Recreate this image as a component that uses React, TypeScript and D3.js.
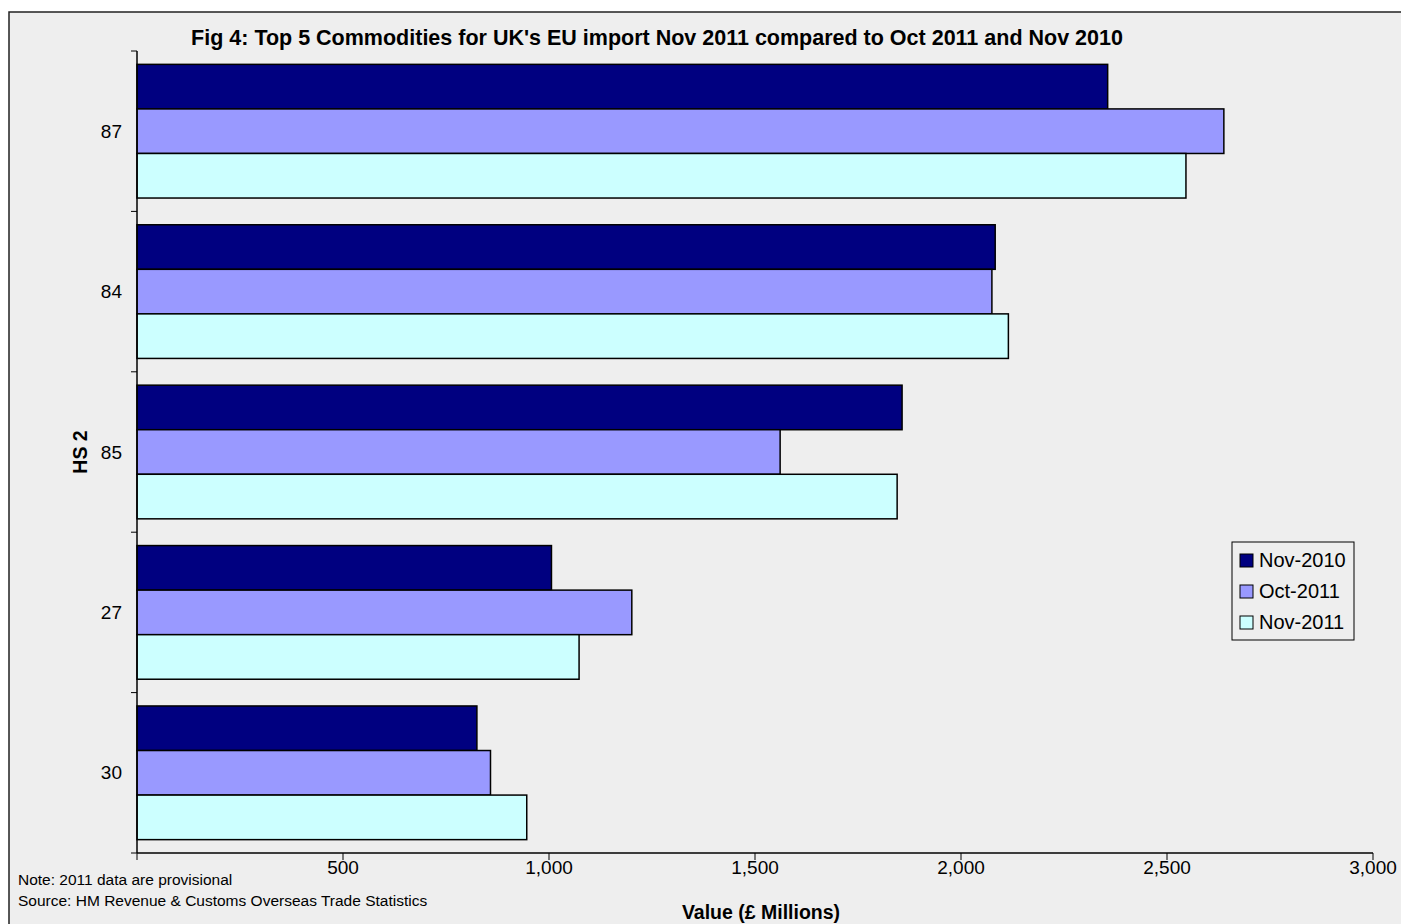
import React from "react";
import * as d3 from "d3";

const categories = ["87", "84", "85", "27", "30"];
const seriesNames = ["Nov-2010", "Oct-2011", "Nov-2011"];
const nov2010 = [2356, 2083, 1857, 1006, 825];
const oct2011 = [2638, 2075, 1561, 1201, 858];
const nov2011 = [2546, 2115, 1845, 1073, 946];
const seriesColors = ["#000080", "#9999FF", "#CCFFFF"];
const xTicks = [500, 1000, 1500, 2000, 2500, 3000];

const W = 1401;
const H = 924;
const FONT = "'Liberation Sans', Arial, sans-serif";

export default function App() {
  const seriesValues = [nov2010, oct2011, nov2011];
  const x = d3.scaleLinear().domain([0, 3000]).range([137, 1373]);
  const y = d3.scaleBand<string>().domain(categories).range([51, 853]).padding(0);
  const inner = d3
    .scaleBand<string>()
    .domain(seriesNames)
    .range([0, y.bandwidth()])
    .paddingInner(0)
    .paddingOuter(0.3);
  const fmt = d3.format(",");
  const x0 = x(0);
  const yTop = 51;
  const yBot = 853;

  return (
    <svg
      width={W}
      height={H}
      style={{ position: "absolute", left: 0, top: 0, background: "#ffffff" }}
      fontFamily={FONT}
    >
      <rect x={9} y={12} width={W + 20} height={H + 20} fill="#EEEEEE" stroke="#222" strokeWidth={1.5} />
      <text x={657} y={45} textAnchor="middle" fontSize={21.5} fontWeight="bold" fill="#000">
        Fig 4: Top 5 Commodities for UK's EU import Nov 2011 compared to Oct 2011 and Nov 2010
      </text>

      {/* bars */}
      {categories.map((c, ci) => (
        <g key={c}>
          {seriesNames.map((s, si) => (
            <rect
              key={s}
              x={x0}
              y={(y(c) as number) + (inner(s) as number)}
              width={x(seriesValues[si][ci]) - x0}
              height={inner.bandwidth()}
              fill={seriesColors[si]}
              stroke="#000"
              strokeWidth={1.5}
            />
          ))}
        </g>
      ))}

      {/* y axis */}
      <line x1={x0} x2={x0} y1={yTop} y2={yBot} stroke="#000" strokeWidth={1.5} />
      {[...categories.map((c) => y(c) as number), yBot].map((t, i) => (
        <line key={i} x1={x0 - 6} x2={x0} y1={t} y2={t} stroke="#000" strokeWidth={1} />
      ))}
      {categories.map((c) => (
        <text
          key={c}
          x={122}
          y={(y(c) as number) + y.bandwidth() / 2}
          textAnchor="end"
          dominantBaseline="central"
          fontSize={19}
          fill="#000"
        >
          {c}
        </text>
      ))}

      {/* x axis */}
      <line x1={x0} x2={x(3000)} y1={yBot} y2={yBot} stroke="#000" strokeWidth={1.5} />
      {[0, ...xTicks].map((t) => (
        <line key={t} x1={x(t)} x2={x(t)} y1={yBot} y2={yBot + 7} stroke="#000" strokeWidth={1} />
      ))}
      {xTicks.map((t) => (
        <text key={t} x={x(t)} y={874} textAnchor="middle" fontSize={19} fill="#000">
          {fmt(t)}
        </text>
      ))}

      <text x={761} y={919} textAnchor="middle" fontSize={19.5} fontWeight="bold" fill="#000">
        Value (£ Millions)
      </text>
      <text
        transform={`translate(87, ${(yTop + yBot) / 2}) rotate(-90)`}
        textAnchor="middle"
        fontSize={19.5}
        fontWeight="bold"
        fill="#000"
      >
        HS 2
      </text>

      {/* notes */}
      <text x={18} y={885} fontSize={15.5} fill="#000">
        Note: 2011 data are provisional
      </text>
      <text x={18} y={906} fontSize={15.5} fill="#000">
        Source: HM Revenue &amp; Customs Overseas Trade Statistics
      </text>

      {/* legend */}
      <rect x={1232} y={542} width={122} height={98} fill="#EEEEEE" stroke="#000" strokeWidth={1} />
      {seriesNames.map((s, i) => (
        <g key={s} transform={`translate(1240, ${560 + i * 31})`}>
          <rect x={0} y={-6} width={13} height={13} fill={seriesColors[i]} stroke="#000" strokeWidth={1} />
          <text x={19} y={0} dominantBaseline="central" fontSize={20} fill="#000">
            {s}
          </text>
        </g>
      ))}
    </svg>
  );
}
